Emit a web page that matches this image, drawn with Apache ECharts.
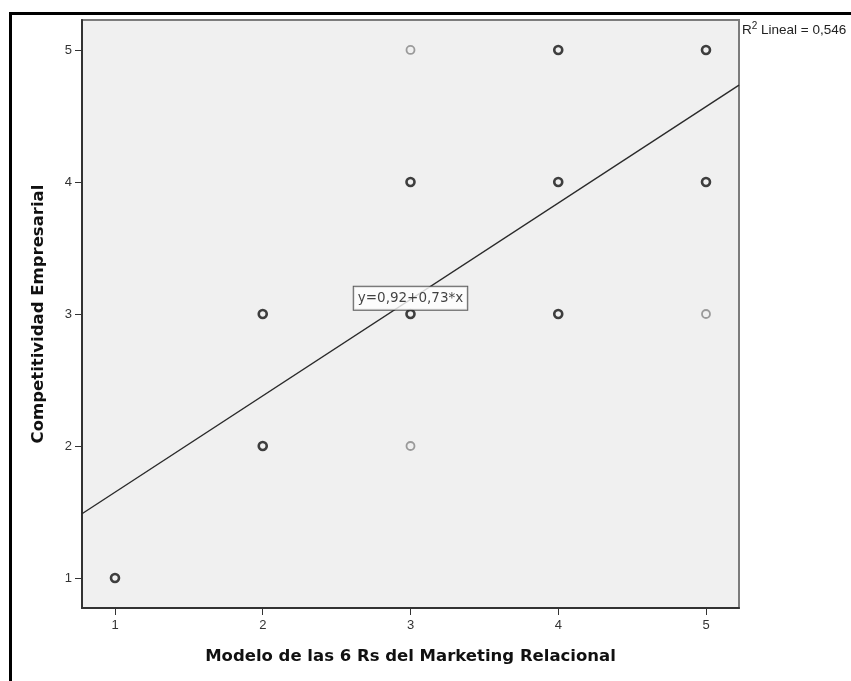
<!DOCTYPE html>
<html>
<head>
<meta charset="utf-8">
<style>
  html, body { margin: 0; padding: 0; background: #ffffff; }
  #chart { width: 851px; height: 681px; }
</style>
<script src="https://cdn.jsdelivr.net/npm/echarts@6/dist/echarts.min.js"></script>
</head>
<body>
<div id="chart"></div>
<script>
// ---- data ----
const xValues = [1, 2, 2, 3, 3, 3, 3, 4, 4, 4, 5, 5, 5];
const yValues = [1, 2, 3, 2, 3, 4, 5, 3, 4, 5, 3, 4, 5];
// frequency of cases at each point (bold rings = several cases overlapping)
const freq    = [2, 2, 2, 1, 2, 2, 1, 2, 2, 2, 1, 2, 2];
const tickValues = [1, 2, 3, 4, 5];
const intercept = 0.92;
const slope = 0.73;
const equationText = 'y=0,92+0,73*x';
const equationPos = [3, 3.12];
const r2Label = 'R';
const r2Sup = '2';
const r2Rest = ' Lineal = 0,546';
const xTitle = 'Modelo de las 6 Rs del Marketing Relacional';
const yTitle = 'Competitividad Empresarial';
const xMin = 0.7767, xMax = 5.2234;
const yMin = 0.773, yMax = 5.227;

const FONT = '"Liberation Sans", Arial, sans-serif';
const WIDE = '"DejaVu Sans", sans-serif';

const points = xValues.map((x, i) => ({
  value: [x, yValues[i]],
  itemStyle: freq[i] > 1
    ? { color: 'transparent', borderColor: '#111111', borderWidth: 2.6 }
    : { color: 'transparent', borderColor: '#858585', borderWidth: 1.8 }
}));

const chart = echarts.init(document.getElementById('chart'), null, { renderer: 'canvas' });
chart.setOption({
  animation: false,
  backgroundColor: '#ffffff',
  grid: {
    left: 82, top: 20, width: 657, height: 588,
    show: true, backgroundColor: '#f0f0f0',
    borderColor: '#7c7c7c', borderWidth: 2
  },
  xAxis: {
    type: 'value', min: xMin, max: xMax,
    name: xTitle, nameLocation: 'middle', nameGap: 40,
    nameTextStyle: { fontFamily: WIDE, fontSize: 16.5, fontWeight: 'bold', color: '#111' },
    splitLine: { show: false },
    axisLine: { show: true, onZero: false, lineStyle: { color: '#333', width: 2 } },
    axisTick: { show: true, length: 7, customValues: tickValues, lineStyle: { color: '#333', width: 1 } },
    axisLabel: { customValues: tickValues, fontFamily: FONT, fontSize: 13, color: '#333', margin: 11,
                 formatter: v => String(Math.round(v)) }
  },
  yAxis: {
    type: 'value', min: yMin, max: yMax,
    name: yTitle, nameLocation: 'middle', nameGap: 35,
    nameTextStyle: { fontFamily: WIDE, fontSize: 16.5, fontWeight: 'bold', color: '#111' },
    splitLine: { show: false },
    axisLine: { show: true, onZero: false, lineStyle: { color: '#333', width: 2 } },
    axisTick: { show: true, length: 7, customValues: tickValues, lineStyle: { color: '#333', width: 1 } },
    axisLabel: { customValues: tickValues, fontFamily: FONT, fontSize: 13, color: '#333', margin: 10,
                 formatter: v => String(Math.round(v)) }
  },
  series: [
    {
      type: 'line',
      data: [[xMin, intercept + slope * xMin], [xMax, intercept + slope * xMax]],
      symbol: 'none',
      lineStyle: { color: '#2a2a2a', width: 1.4 },
      z: 2,
      silent: true
    },
    {
      type: 'scatter',
      data: points,
      symbol: 'circle',
      symbolSize: 8,
      z: 3
    },
    {
      type: 'scatter',
      data: [equationPos],
      symbolSize: 0,
      z: 5,
      label: {
        show: true, position: 'inside',
        formatter: equationText,
        fontFamily: WIDE, fontSize: 13.5, color: '#111',
        backgroundColor: '#ffffff', borderColor: '#333', borderWidth: 1,
        padding: [5, 4, 4, 4]
      }
    }
  ],
  graphic: [
    {
      type: 'rect', z: 0, silent: true,
      shape: { x: 10.5, y: 13.5, width: 900, height: 720 },
      style: { fill: 'none', stroke: '#000', lineWidth: 3 }
    },
    {
      type: 'text', left: 742, top: 21, z: 10,
      style: {
        text: '{a|' + r2Label + '}{s|' + r2Sup + '}{a|' + r2Rest + '}',
        rich: {
          a: { fontFamily: FONT, fontSize: 13.5, fill: '#222', verticalAlign: 'bottom', lineHeight: 16 },
          s: { fontFamily: FONT, fontSize: 10, fill: '#222', verticalAlign: 'top', lineHeight: 16, padding: [0, 0, 6, 0] }
        }
      }
    }
  ]
});
</script>
</body>
</html>
